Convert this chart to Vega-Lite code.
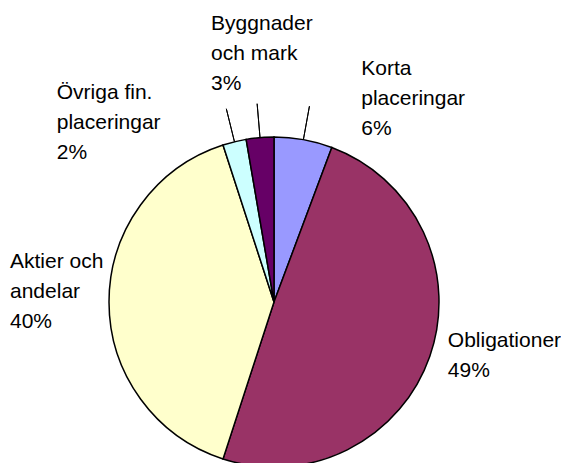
{
  "$schema": "https://vega.github.io/schema/vega-lite/v6.json",
  "width": 328,
  "height": 322,
  "autosize": {"type": "none"},
  "padding": {"left": 110, "top": 141, "right": 123, "bottom": 0},
  "background": "white",
  "config": {"view": {"stroke": null}, "text": {"font": "Liberation Sans"}},
  "data": {
    "values": [
      {"kategori": "Korta placeringar", "etikett": "Korta\nplaceringar", "andel": 0.057},
      {"kategori": "Obligationer", "etikett": "Obligationer", "andel": 0.493},
      {"kategori": "Aktier och andelar", "etikett": "Aktier och\nandelar", "andel": 0.400},
      {"kategori": "Övriga fin. placeringar", "etikett": "Övriga fin.\nplaceringar", "andel": 0.023},
      {"kategori": "Byggnader och mark", "etikett": "Byggnader\noch mark", "andel": 0.027}
    ]
  },
  "transform": [
    {"window": [{"op": "sum", "field": "andel", "as": "slut"}], "frame": [null, 0]},
    {"calculate": "datum.slut - datum.andel", "as": "start"},
    {"calculate": "datum.slut - datum.andel / 2", "as": "mitt"},
    {"calculate": "datum.etikett + '\\n' + format(datum.andel, '.0%')", "as": "text"}
  ],
  "layer": [
    {
      "mark": {"type": "arc", "outerRadius": 165, "stroke": "black", "strokeWidth": 1.5},
      "encoding": {
        "theta": {"field": "start", "type": "quantitative", "stack": null, "scale": {"domain": [0, 1]}},
        "theta2": {"field": "slut"},
        "color": {
          "field": "kategori",
          "type": "nominal",
          "scale": {
            "domain": ["Korta placeringar", "Obligationer", "Aktier och andelar", "Övriga fin. placeringar", "Byggnader och mark"],
            "range": ["#9999FF", "#993366", "#FFFFCC", "#CCFFFF", "#660066"]
          },
          "legend": null
        }
      }
    },
    {
      "transform": [{"filter": "datum.kategori != 'Obligationer' && datum.kategori != 'Aktier och andelar'"}],
      "mark": {"type": "arc", "radius": 199, "radius2": 165, "fillOpacity": 0, "stroke": "black", "strokeWidth": 1},
      "encoding": {
        "theta": {"field": "mitt", "type": "quantitative", "stack": null, "scale": {"domain": [0, 1]}},
        "theta2": {"field": "mitt"}
      }
    },
    {
      "transform": [{"filter": "datum.kategori == 'Korta placeringar'"}],
      "mark": {"type": "text", "radius": 164, "align": "left", "baseline": "alphabetic", "dx": 58, "dy": -66, "fontSize": 21, "lineHeight": 30, "lineBreak": "\n", "color": "black"},
      "encoding": {
        "theta": {"field": "mitt", "type": "quantitative", "stack": null, "scale": {"domain": [0, 1]}},
        "text": {"field": "text"}
      }
    },
    {
      "transform": [{"filter": "datum.kategori == 'Obligationer'"}],
      "mark": {"type": "text", "radius": 164, "align": "left", "baseline": "alphabetic", "dx": 19, "dy": -9, "fontSize": 21, "lineHeight": 30, "lineBreak": "\n", "color": "black"},
      "encoding": {
        "theta": {"field": "mitt", "type": "quantitative", "stack": null, "scale": {"domain": [0, 1]}},
        "text": {"field": "text"}
      }
    },
    {
      "transform": [{"filter": "datum.kategori == 'Aktier och andelar'"}],
      "mark": {"type": "text", "radius": 164, "align": "left", "baseline": "alphabetic", "dx": -100, "dy": -34, "fontSize": 21, "lineHeight": 30, "lineBreak": "\n", "color": "black"},
      "encoding": {
        "theta": {"field": "mitt", "type": "quantitative", "stack": null, "scale": {"domain": [0, 1]}},
        "text": {"field": "text"}
      }
    },
    {
      "transform": [{"filter": "datum.kategori == 'Övriga fin. placeringar'"}],
      "mark": {"type": "text", "radius": 164, "align": "left", "baseline": "alphabetic", "dx": -178, "dy": -44, "fontSize": 21, "lineHeight": 30, "lineBreak": "\n", "color": "black"},
      "encoding": {
        "theta": {"field": "mitt", "type": "quantitative", "stack": null, "scale": {"domain": [0, 1]}},
        "text": {"field": "text"}
      }
    },
    {
      "transform": [{"filter": "datum.kategori == 'Byggnader och mark'"}],
      "mark": {"type": "text", "radius": 164, "align": "left", "baseline": "alphabetic", "dx": -49, "dy": -109, "fontSize": 21, "lineHeight": 30, "lineBreak": "\n", "color": "black"},
      "encoding": {
        "theta": {"field": "mitt", "type": "quantitative", "stack": null, "scale": {"domain": [0, 1]}},
        "text": {"field": "text"}
      }
    }
  ]
}
